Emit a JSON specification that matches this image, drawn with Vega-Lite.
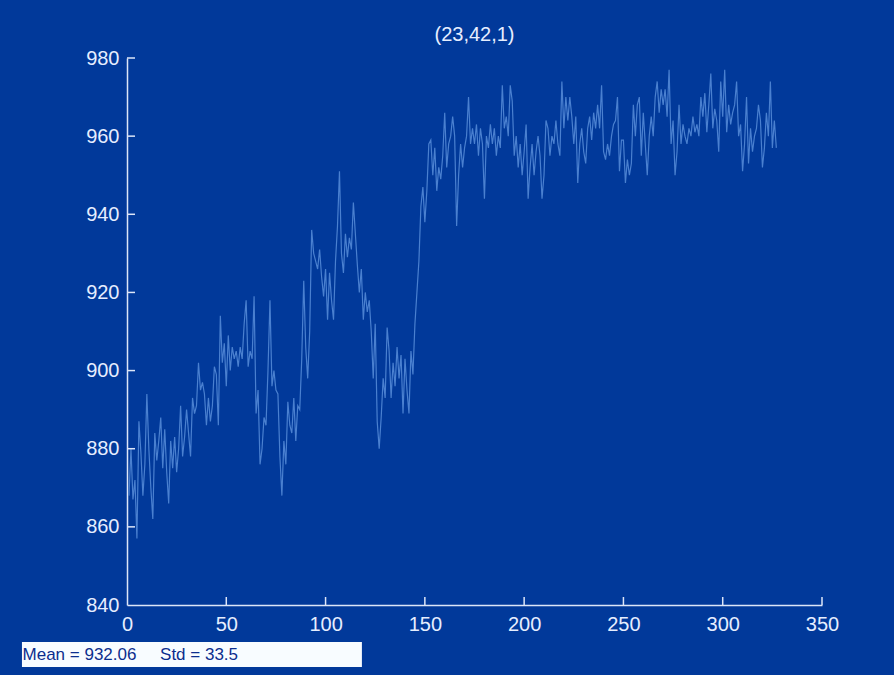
{
  "$schema": "https://vega.github.io/schema/vega-lite/v6.json",
  "width": 695,
  "height": 547,
  "autosize": {"type": "none"},
  "padding": {"left": 127, "top": 58, "right": 72, "bottom": 70},
  "background": "#01399a",
  "config": {"view": {"stroke": null}, "font": "Liberation Sans"},
  "title": {"text": "(23,42,1)", "fontSize": 20, "fontWeight": "normal", "color": "#e6eeff", "offset": 3, "frame": "group", "font": "Liberation Sans"},
  "datasets": {
    "series": [
      {"i":1,"v":868},{"i":2,"v":880},{"i":3,"v":867},{"i":4,"v":872},{"i":5,"v":857},{"i":6,"v":887},{"i":7,"v":879},{"i":8,"v":868},{"i":9,"v":876},{"i":10,"v":894},
      {"i":11,"v":880},{"i":12,"v":870},{"i":13,"v":862},{"i":14,"v":884},{"i":15,"v":877},{"i":16,"v":882},{"i":17,"v":888},{"i":18,"v":875},{"i":19,"v":885},{"i":20,"v":874},
      {"i":21,"v":866},{"i":22,"v":882},{"i":23,"v":875},{"i":24,"v":883},{"i":25,"v":874},{"i":26,"v":880},{"i":27,"v":891},{"i":28,"v":878},{"i":29,"v":883},{"i":30,"v":890},
      {"i":31,"v":884},{"i":32,"v":878},{"i":33,"v":893},{"i":34,"v":889},{"i":35,"v":891},{"i":36,"v":902},{"i":37,"v":895},{"i":38,"v":897},{"i":39,"v":894},{"i":40,"v":886},
      {"i":41,"v":893},{"i":42,"v":887},{"i":43,"v":891},{"i":44,"v":901},{"i":45,"v":899},{"i":46,"v":886},{"i":47,"v":914},{"i":48,"v":902},{"i":49,"v":907},{"i":50,"v":896},
      {"i":51,"v":909},{"i":52,"v":900},{"i":53,"v":906},{"i":54,"v":903},{"i":55,"v":905},{"i":56,"v":901},{"i":57,"v":906},{"i":58,"v":903},{"i":59,"v":912},{"i":60,"v":918},
      {"i":61,"v":901},{"i":62,"v":905},{"i":63,"v":903},{"i":64,"v":919},{"i":65,"v":889},{"i":66,"v":895},{"i":67,"v":876},{"i":68,"v":880},{"i":69,"v":888},{"i":70,"v":886},
      {"i":71,"v":900},{"i":72,"v":918},{"i":73,"v":896},{"i":74,"v":900},{"i":75,"v":895},{"i":76,"v":894},{"i":77,"v":878},{"i":78,"v":868},{"i":79,"v":882},{"i":80,"v":876},
      {"i":81,"v":892},{"i":82,"v":886},{"i":83,"v":884},{"i":84,"v":893},{"i":85,"v":882},{"i":86,"v":891},{"i":87,"v":890},{"i":88,"v":903},{"i":89,"v":923},{"i":90,"v":906},
      {"i":91,"v":898},{"i":92,"v":910},{"i":93,"v":936},{"i":94,"v":930},{"i":95,"v":928},{"i":96,"v":926},{"i":97,"v":931},{"i":98,"v":924},{"i":99,"v":919},{"i":100,"v":926},
      {"i":101,"v":913},{"i":102,"v":925},{"i":103,"v":918},{"i":104,"v":913},{"i":105,"v":928},{"i":106,"v":937},{"i":107,"v":951},{"i":108,"v":930},{"i":109,"v":925},{"i":110,"v":935},
      {"i":111,"v":929},{"i":112,"v":934},{"i":113,"v":931},{"i":114,"v":943},{"i":115,"v":935},{"i":116,"v":927},{"i":117,"v":920},{"i":118,"v":926},{"i":119,"v":913},{"i":120,"v":920},
      {"i":121,"v":915},{"i":122,"v":918},{"i":123,"v":910},{"i":124,"v":898},{"i":125,"v":912},{"i":126,"v":887},{"i":127,"v":880},{"i":128,"v":888},{"i":129,"v":898},{"i":130,"v":893},
      {"i":131,"v":911},{"i":132,"v":905},{"i":133,"v":893},{"i":134,"v":902},{"i":135,"v":896},{"i":136,"v":906},{"i":137,"v":898},{"i":138,"v":904},{"i":139,"v":889},{"i":140,"v":903},
      {"i":141,"v":895},{"i":142,"v":889},{"i":143,"v":905},{"i":144,"v":899},{"i":145,"v":912},{"i":146,"v":920},{"i":147,"v":928},{"i":148,"v":942},{"i":149,"v":947},{"i":150,"v":938},
      {"i":151,"v":946},{"i":152,"v":958},{"i":153,"v":959},{"i":154,"v":950},{"i":155,"v":957},{"i":156,"v":946},{"i":157,"v":952},{"i":158,"v":949},{"i":159,"v":955},{"i":160,"v":966},
      {"i":161,"v":952},{"i":162,"v":958},{"i":163,"v":960},{"i":164,"v":965},{"i":165,"v":960},{"i":166,"v":937},{"i":167,"v":950},{"i":168,"v":958},{"i":169,"v":952},{"i":170,"v":957},
      {"i":171,"v":960},{"i":172,"v":970},{"i":173,"v":958},{"i":174,"v":962},{"i":175,"v":958},{"i":176,"v":963},{"i":177,"v":955},{"i":178,"v":962},{"i":179,"v":958},{"i":180,"v":944},
      {"i":181,"v":960},{"i":182,"v":957},{"i":183,"v":963},{"i":184,"v":958},{"i":185,"v":962},{"i":186,"v":955},{"i":187,"v":960},{"i":188,"v":957},{"i":189,"v":973},{"i":190,"v":962},
      {"i":191,"v":965},{"i":192,"v":960},{"i":193,"v":973},{"i":194,"v":969},{"i":195,"v":955},{"i":196,"v":960},{"i":197,"v":952},{"i":198,"v":958},{"i":199,"v":950},{"i":200,"v":956},
      {"i":201,"v":963},{"i":202,"v":944},{"i":203,"v":952},{"i":204,"v":958},{"i":205,"v":950},{"i":206,"v":956},{"i":207,"v":960},{"i":208,"v":955},{"i":209,"v":944},{"i":210,"v":950},
      {"i":211,"v":964},{"i":212,"v":962},{"i":213,"v":955},{"i":214,"v":960},{"i":215,"v":958},{"i":216,"v":964},{"i":217,"v":958},{"i":218,"v":955},{"i":219,"v":974},{"i":220,"v":962},
      {"i":221,"v":970},{"i":222,"v":964},{"i":223,"v":970},{"i":224,"v":965},{"i":225,"v":958},{"i":226,"v":965},{"i":227,"v":948},{"i":228,"v":958},{"i":229,"v":962},{"i":230,"v":956},
      {"i":231,"v":953},{"i":232,"v":962},{"i":233,"v":965},{"i":234,"v":959},{"i":235,"v":966},{"i":236,"v":962},{"i":237,"v":968},{"i":238,"v":962},{"i":239,"v":973},{"i":240,"v":956},
      {"i":241,"v":954},{"i":242,"v":958},{"i":243,"v":955},{"i":244,"v":960},{"i":245,"v":963},{"i":246,"v":964},{"i":247,"v":970},{"i":248,"v":951},{"i":249,"v":959},{"i":250,"v":959},
      {"i":251,"v":948},{"i":252,"v":954},{"i":253,"v":950},{"i":254,"v":953},{"i":255,"v":968},{"i":256,"v":960},{"i":257,"v":968},{"i":258,"v":970},{"i":259,"v":955},{"i":260,"v":966},
      {"i":261,"v":958},{"i":262,"v":950},{"i":263,"v":960},{"i":264,"v":965},{"i":265,"v":960},{"i":266,"v":970},{"i":267,"v":974},{"i":268,"v":966},{"i":269,"v":972},{"i":270,"v":968},
      {"i":271,"v":972},{"i":272,"v":965},{"i":273,"v":977},{"i":274,"v":958},{"i":275,"v":964},{"i":276,"v":950},{"i":277,"v":956},{"i":278,"v":968},{"i":279,"v":958},{"i":280,"v":963},
      {"i":281,"v":960},{"i":282,"v":958},{"i":283,"v":962},{"i":284,"v":960},{"i":285,"v":965},{"i":286,"v":961},{"i":287,"v":963},{"i":288,"v":960},{"i":289,"v":970},{"i":290,"v":965},
      {"i":291,"v":971},{"i":292,"v":961},{"i":293,"v":968},{"i":294,"v":976},{"i":295,"v":962},{"i":296,"v":967},{"i":297,"v":964},{"i":298,"v":956},{"i":299,"v":974},{"i":300,"v":965},
      {"i":301,"v":977},{"i":302,"v":961},{"i":303,"v":968},{"i":304,"v":963},{"i":305,"v":966},{"i":306,"v":968},{"i":307,"v":974},{"i":308,"v":960},{"i":309,"v":963},{"i":310,"v":951},
      {"i":311,"v":958},{"i":312,"v":970},{"i":313,"v":953},{"i":314,"v":962},{"i":315,"v":956},{"i":316,"v":960},{"i":317,"v":962},{"i":318,"v":968},{"i":319,"v":964},{"i":320,"v":952},
      {"i":321,"v":957},{"i":322,"v":966},{"i":323,"v":960},{"i":324,"v":974},{"i":325,"v":957},{"i":326,"v":964},{"i":327,"v":957}
    ],
    "xticks": [{"t":50},{"t":100},{"t":150},{"t":200},{"t":250},{"t":300},{"t":350}],
    "yticks": [{"t":860},{"t":880},{"t":900},{"t":920},{"t":940},{"t":960},{"t":980}],
    "stats": [{"label": "Mean = 932.06\u00a0\u00a0\u00a0\u00a0\u00a0Std = 33.5"}]
  },
  "layer": [
    {
      "data": {"name": "series"},
      "mark": {"type": "line", "color": "#4a80d0", "strokeWidth": 1.2},
      "encoding": {
        "x": {
          "field": "i", "type": "quantitative",
          "scale": {"domain": [0, 350], "nice": false, "zero": false},
          "axis": {"title": null, "values": [0, 50, 100, 150, 200, 250, 300, 350], "grid": false,
                   "ticks": false, "labelPadding": 9, "domainColor": "#dde6f8",
                   "domainWidth": 1.5, "labelColor": "#e6eeff", "labelFontSize": 20,
                   "labelFont": "Liberation Sans", "labelFlush": false, "labelOverlap": false}
        },
        "y": {
          "field": "v", "type": "quantitative",
          "scale": {"domain": [840, 980], "nice": false, "zero": false},
          "axis": {"title": null, "values": [840, 860, 880, 900, 920, 940, 960, 980], "grid": false,
                   "ticks": false, "labelPadding": 8, "domainColor": "#dde6f8",
                   "domainWidth": 1.5, "labelColor": "#e6eeff", "labelFontSize": 20,
                   "labelFont": "Liberation Sans", "labelFlush": false, "labelOverlap": false}
        }
      }
    },
    {
      "data": {"name": "xticks"},
      "mark": {"type": "rule", "color": "#dde6f8", "strokeWidth": 1.5},
      "encoding": {
        "x": {"field": "t", "type": "quantitative"},
        "y": {"datum": 840, "type": "quantitative"},
        "y2": {"datum": 842.05}
      }
    },
    {
      "data": {"name": "yticks"},
      "mark": {"type": "rule", "color": "#dde6f8", "strokeWidth": 1.5},
      "encoding": {
        "y": {"field": "t", "type": "quantitative"},
        "x": {"datum": 0, "type": "quantitative"},
        "x2": {"datum": 4.03}
      }
    },
    {
      "data": {"name": "stats"},
      "mark": {"type": "rect", "fill": "#f8fcff"},
      "encoding": {
        "x": {"datum": -52.9, "type": "quantitative"},
        "x2": {"datum": 118.3},
        "y": {"datum": 830.5, "type": "quantitative"},
        "y2": {"datum": 824.1}
      }
    },
    {
      "data": {"name": "stats"},
      "mark": {"type": "text", "align": "left", "baseline": "alphabetic", "fontSize": 17, "color": "#0b2e8e", "font": "Liberation Sans"},
      "encoding": {
        "x": {"datum": -52.6, "type": "quantitative"},
        "y": {"datum": 825.8, "type": "quantitative"},
        "text": {"field": "label"}
      }
    }
  ]
}
